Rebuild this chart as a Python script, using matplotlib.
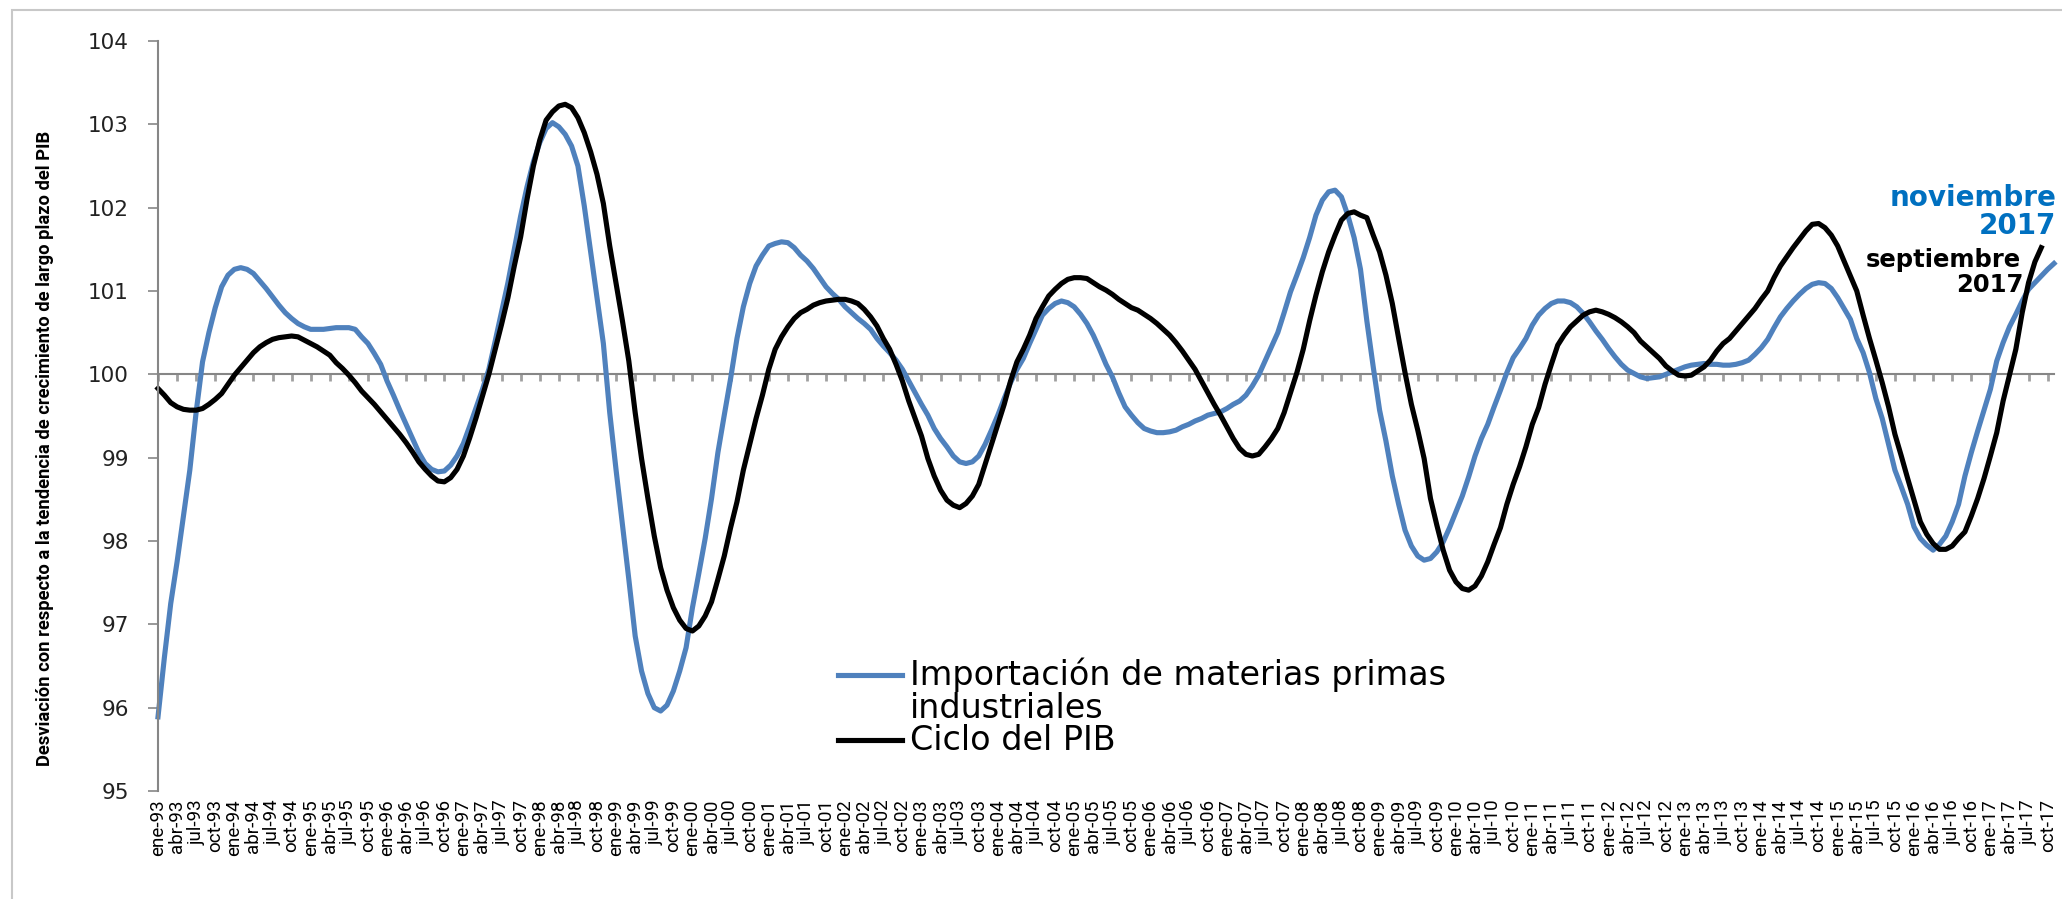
import matplotlib
matplotlib.use("Agg")
import matplotlib.pyplot as plt
from matplotlib.lines import Line2D
from matplotlib.patches import Rectangle
import numpy as np

# monthly series, ene-93 ... nov-17 (imports) and ene-93 ... sep-17 (GDP cycle)
importaciones = [
    95.89, 96.60, 97.25, 97.75, 98.30, 98.85, 99.55, 100.15, 100.50, 100.80,
    101.05, 101.19, 101.26, 101.28, 101.26, 101.21, 101.12, 101.03, 100.93, 100.83,
    100.74, 100.67, 100.61, 100.57, 100.54, 100.54, 100.54, 100.55, 100.56, 100.56,
    100.56, 100.54, 100.45, 100.37, 100.25, 100.12, 99.92, 99.75, 99.57, 99.40,
    99.23, 99.06, 98.93, 98.86, 98.83, 98.84, 98.91, 99.02, 99.17, 99.38,
    99.60, 99.82, 100.06, 100.40, 100.75, 101.10, 101.50, 101.90, 102.25, 102.55,
    102.78, 102.95, 103.02, 102.97, 102.88, 102.74, 102.50, 102.02, 101.47, 100.92,
    100.37, 99.54, 98.85, 98.20, 97.54, 96.86, 96.44, 96.17, 96.00, 95.96,
    96.03, 96.20, 96.44, 96.72, 97.20, 97.61, 98.03, 98.51, 99.06, 99.51,
    99.95, 100.43, 100.81, 101.09, 101.30, 101.43, 101.54, 101.57, 101.59, 101.58,
    101.52, 101.43, 101.36, 101.27, 101.16, 101.05, 100.97, 100.90, 100.81, 100.74,
    100.67, 100.61, 100.54, 100.43, 100.34, 100.26, 100.17, 100.06, 99.92, 99.78,
    99.64, 99.51, 99.35, 99.23, 99.13, 99.02, 98.95, 98.93, 98.95, 99.02,
    99.16, 99.33, 99.51, 99.71, 99.90, 100.06, 100.19, 100.37, 100.54, 100.71,
    100.79, 100.85, 100.88, 100.86, 100.81, 100.72, 100.61, 100.47, 100.30, 100.12,
    99.97, 99.78, 99.61, 99.51, 99.42, 99.35, 99.32, 99.30, 99.30, 99.31,
    99.33, 99.37, 99.40, 99.44, 99.47, 99.51, 99.53, 99.55, 99.59, 99.64,
    99.68, 99.75, 99.86, 99.99, 100.16, 100.33, 100.50, 100.74, 100.99, 101.19,
    101.40, 101.64, 101.91, 102.09, 102.19, 102.21, 102.13, 101.91, 101.64, 101.26,
    100.64, 100.09, 99.57, 99.20, 98.78, 98.44, 98.13, 97.94, 97.82, 97.77,
    97.79, 97.87, 97.99, 98.16, 98.35, 98.54, 98.77, 99.02, 99.23, 99.40,
    99.61, 99.81, 100.02, 100.20, 100.31, 100.43, 100.59, 100.71, 100.79, 100.85,
    100.88, 100.88, 100.86, 100.81, 100.73, 100.63, 100.52, 100.42, 100.31, 100.21,
    100.12, 100.05, 100.01, 99.97, 99.95, 99.96, 99.97, 100.00, 100.03, 100.06,
    100.09, 100.11, 100.12, 100.13, 100.12, 100.12, 100.11, 100.11, 100.12, 100.14,
    100.17, 100.24, 100.32, 100.42, 100.56, 100.69, 100.79, 100.88, 100.96, 101.03,
    101.08, 101.10, 101.09, 101.03, 100.92, 100.79, 100.66, 100.43, 100.26, 100.02,
    99.71, 99.47, 99.16, 98.85, 98.65, 98.44, 98.17, 98.03, 97.95, 97.89,
    97.96, 98.06, 98.23, 98.44, 98.78, 99.06, 99.32, 99.57, 99.82, 100.16,
    100.38, 100.57, 100.72, 100.88, 101.02, 101.10, 101.18, 101.26, 101.33,
]

ciclo_pib = [
    99.83, 99.75, 99.66, 99.61, 99.58, 99.57, 99.57, 99.59, 99.64, 99.70,
    99.77, 99.88, 99.99, 100.08, 100.17, 100.26, 100.33, 100.38, 100.42, 100.44,
    100.45, 100.46, 100.45, 100.41, 100.37, 100.33, 100.28, 100.23, 100.14, 100.07,
    99.99, 99.90, 99.80, 99.72, 99.64, 99.55, 99.46, 99.37, 99.28, 99.18,
    99.07, 98.95, 98.86, 98.78, 98.72, 98.71, 98.76, 98.86, 99.02, 99.24,
    99.48, 99.74, 100.00, 100.30, 100.60, 100.92, 101.30, 101.65, 102.10, 102.50,
    102.81, 103.05, 103.15, 103.22, 103.24, 103.20, 103.08, 102.90, 102.67, 102.40,
    102.05, 101.54, 101.09, 100.64, 100.16, 99.54, 98.99, 98.51, 98.06, 97.68,
    97.41, 97.20, 97.05, 96.95, 96.92, 96.98, 97.10, 97.27, 97.54, 97.82,
    98.16, 98.47, 98.85, 99.16, 99.47, 99.75, 100.06, 100.30, 100.45, 100.57,
    100.67, 100.74, 100.78, 100.83, 100.86, 100.88, 100.89, 100.90, 100.90, 100.88,
    100.85, 100.78, 100.69, 100.58, 100.43, 100.30, 100.12, 99.92, 99.68, 99.47,
    99.26, 98.99, 98.78, 98.61, 98.49, 98.43, 98.40, 98.45, 98.54, 98.68,
    98.92, 99.16, 99.40, 99.64, 99.92, 100.15, 100.30, 100.47, 100.67, 100.81,
    100.94, 101.02, 101.09, 101.14, 101.16, 101.16, 101.15, 101.10, 101.05, 101.01,
    100.96, 100.90, 100.85, 100.80, 100.77, 100.72, 100.67, 100.61, 100.54, 100.47,
    100.38, 100.28, 100.17, 100.06, 99.92, 99.78, 99.64, 99.51, 99.37, 99.23,
    99.11, 99.04, 99.02, 99.04, 99.13, 99.23, 99.35, 99.54, 99.78, 100.02,
    100.30, 100.64, 100.95, 101.23, 101.47, 101.67, 101.85, 101.93, 101.95, 101.91,
    101.88, 101.67, 101.47, 101.19, 100.85, 100.43, 100.02, 99.64, 99.33, 98.99,
    98.51, 98.19, 97.89, 97.65, 97.51, 97.43, 97.41, 97.46, 97.58, 97.75,
    97.96, 98.16, 98.44, 98.68, 98.89, 99.13, 99.40, 99.60, 99.88, 100.12,
    100.35, 100.47, 100.57, 100.64, 100.71, 100.75, 100.77, 100.75, 100.72, 100.68,
    100.63, 100.57, 100.50, 100.40, 100.33, 100.26, 100.19, 100.10, 100.04, 99.99,
    99.98, 99.99, 100.04, 100.09, 100.17, 100.28, 100.37, 100.43, 100.52, 100.61,
    100.70, 100.79, 100.90, 101.00, 101.16, 101.30, 101.41, 101.52, 101.62, 101.72,
    101.80, 101.81, 101.76, 101.67, 101.54, 101.36, 101.18, 101.00, 100.71, 100.43,
    100.17, 99.90, 99.61, 99.28, 99.02, 98.75, 98.49, 98.23, 98.08, 97.97,
    97.90, 97.90, 97.94, 98.03, 98.11, 98.30, 98.51, 98.75, 99.02, 99.30,
    99.68, 99.99, 100.30, 100.74, 101.10, 101.35, 101.52,
]

meses = ["ene", "abr", "jul", "oct"]
anios = ["%02d" % (y % 100) for y in range(1993, 2018)]
etiquetas = [m + "-" + a for a in anios for m in meses]

serie_imp = "Importación de materias primas\nindustriales"
serie_pib = "Ciclo del PIB"
azul = "#4F81BD"
gris = "#868686"
narrow = ["Roboto", "DejaVu Sans"]

W, H = 2062, 899
fig = plt.figure(figsize=(W / 100, H / 100), dpi=100)
fig.patch.set_facecolor("white")

# outer chart border (bottom and right edges fall outside the picture)
fig.add_artist(Rectangle((12 / W, -0.05), 1.2, 1.05 - 10 / H, transform=fig.transFigure,
                         fill=False, edgecolor="#C8C8C8", lw=1.5))

left, right, top, bottom = 158, 2054, 41, 791
ax = fig.add_axes([left / W, 1 - bottom / H, (right - left) / W, (bottom - top) / H])

# x axis crossing at 100 with small tick marks
ax2 = ax.twiny()
ax.set_zorder(2)
ax2.set_zorder(1)
ax.patch.set_visible(False)

x_imp = np.arange(len(importaciones))
x_pib = np.arange(len(ciclo_pib))
ax.plot(x_imp, importaciones, color=azul, lw=3.7, clip_on=False, solid_joinstyle="round")
ax.plot(x_pib, ciclo_pib, color="black", lw=3.7, clip_on=False, solid_joinstyle="round")

ax.set_xlim(0, 298)
ax.set_ylim(95, 104)
ax.set_yticks(range(95, 105))
ax.tick_params(axis="y", direction="out", length=7, width=1.2, color=gris,
               labelsize=15.5, pad=14, labelcolor="#222222")
for s in ["top", "right", "bottom"]:
    ax.spines[s].set_visible(False)
ax.spines["left"].set_color(gris)
ax.spines["left"].set_linewidth(1.5)

pos = np.arange(0, 3 * len(etiquetas), 3)
ax.set_xticks(pos)
ax.set_xticklabels(etiquetas, rotation=90, family=narrow, fontsize=13.5)
ax.tick_params(axis="x", length=0, pad=6)

ax2.set_xlim(ax.get_xlim())
ax2.set_xticks(pos)
ax2.set_xticklabels([])
ax2.xaxis.set_ticks_position("bottom")
ax2.spines["bottom"].set_position(("data", 100))
ax2.spines["bottom"].set_color(gris)
ax2.spines["bottom"].set_linewidth(1.5)
for s in ["top", "right", "left"]:
    ax2.spines[s].set_visible(False)
ax2.tick_params(axis="x", direction="out", length=5, width=2, color="#A0A0A0")

fig.text(45 / W, 1 - 448 / H,
         "Desviación con respecto a la tendencia de crecimiento de largo plazo del PIB",
         rotation=90, ha="center", va="center", family=narrow, fontsize=13.2,
         fontweight="bold")

# legend drawn in figure pixels
fig.add_artist(Line2D([838 / W, 902 / W], [1 - 675 / H] * 2, color=azul, lw=3.7,
                      transform=fig.transFigure))
fig.add_artist(Line2D([838 / W, 902 / W], [1 - 740 / H] * 2, color="black", lw=3.7,
                      transform=fig.transFigure))
fig.text(910 / W, 1 - 675 / H, serie_imp.split("\n")[0], ha="left", va="center",
         fontsize=24)
fig.text(910 / W, 1 - 709 / H, serie_imp.split("\n")[1], ha="left", va="center",
         fontsize=24)
fig.text(910 / W, 1 - 740 / H, serie_pib, ha="left", va="center", fontsize=24)

fig.text(2056 / W, 1 - 198 / H, "noviembre", ha="right", va="center",
         color="#0070C0", fontsize=20, fontweight="bold")
fig.text(2056 / W, 1 - 226 / H, "2017", ha="right", va="center",
         color="#0070C0", fontsize=20, fontweight="bold")
fig.text(2021 / W, 1 - 260 / H, "septiembre", ha="right", va="center",
         color="black", fontsize=17.5, fontweight="bold")
fig.text(2024 / W, 1 - 285 / H, "2017", ha="right", va="center",
         color="black", fontsize=17.5, fontweight="bold")

fig.savefig("out.png", dpi=100)
